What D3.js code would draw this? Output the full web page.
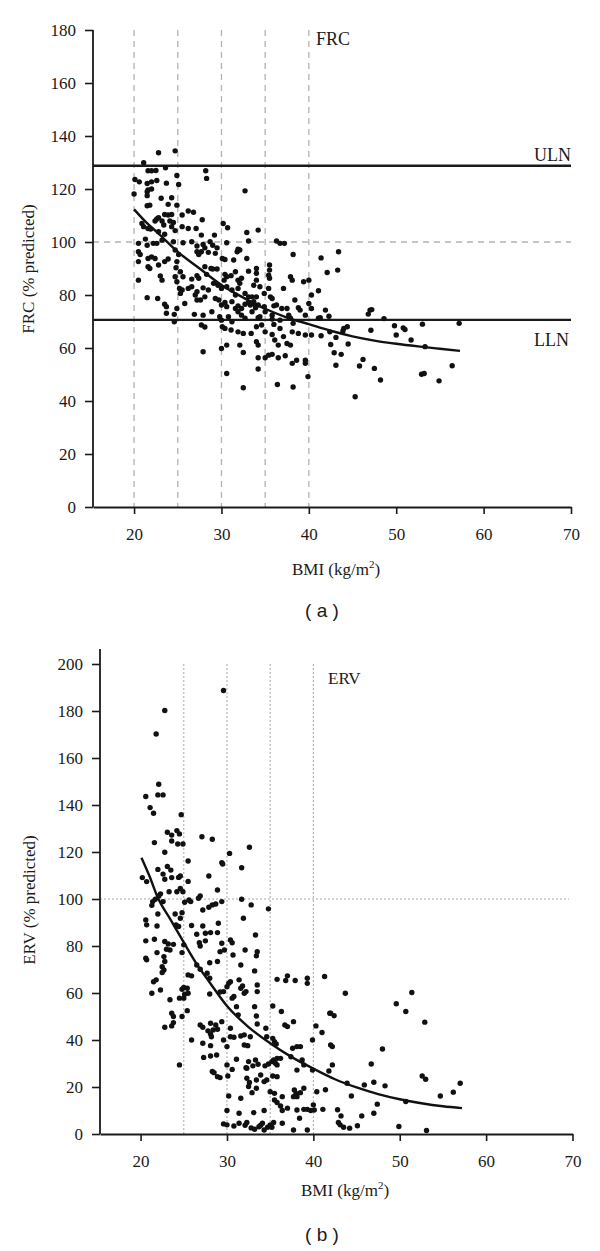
<!DOCTYPE html>
<html>
<head>
<meta charset="utf-8">
<script src="https://cdn.jsdelivr.net/npm/d3@7"></script>
<style>
  html, body { margin: 0; padding: 0; background: #fff; }
  svg { display: block; }
</style>
</head>
<body>
<svg id="chart" width="600" height="1251"></svg>
<script>
// ---------------- DATA ----------------
const xTicks = [20, 30, 40, 50, 60, 70];
const frcTicks = [0, 20, 40, 60, 80, 100, 120, 140, 160, 180];
const ervTicks = [0, 20, 40, 60, 80, 100, 120, 140, 160, 180, 200];
const frcRefVLines = [20, 25, 30, 35, 40];
const ervRefVLines = [25, 30, 35, 40];
const refHLine = 100;
const frcULN = 128.8;
const frcLLN = 70.6;

// FRC (% predicted) vs BMI — [BMI, FRC]
const frcPoints = [
[22.8,133.7],[24.7,134.4],[21.1,129.9],[21.6,126.9],[22.0,126.9],[22.5,127.0],[23.6,128.0],[24.9,125.1],[28.2,126.9],[28.3,124.0],
[20.1,123.6],[20.6,122.7],[21.5,122.1],[22.0,122.7],[22.6,123.2],[23.7,122.2],[25.1,121.7],[20.0,118.1],[21.5,119.0],[21.6,119.6],
[22.0,120.0],[21.5,117.5],[23.1,116.5],[24.3,116.7],[24.9,113.9],[21.5,113.7],[21.8,113.9],[32.7,119.3],[23.9,114.2],[22.8,109.2],
[23.5,110.4],[23.9,110.2],[24.3,110.4],[22.4,107.9],[22.6,108.7],[23.2,107.9],[24.1,107.9],[24.5,107.4],[25.5,110.2],[26.2,111.7],
[26.8,111.2],[27.8,108.4],[20.9,107.0],[21.1,105.8],[21.6,105.1],[21.9,104.9],[22.8,103.9],[23.4,106.4],[24.3,105.8],[24.7,104.3],
[23.5,102.9],[25.5,105.8],[26.2,105.1],[27.1,105.1],[27.7,102.6],[29.2,102.6],[30.2,107.0],[30.7,105.4],[32.9,103.6],[34.2,104.5],
[20.5,99.5],[21.3,101.1],[21.5,98.8],[22.2,99.5],[22.6,99.5],[23.2,100.7],[24.5,100.1],[25.6,99.7],[26.6,100.1],[27.2,98.5],
[27.9,99.1],[28.1,97.8],[28.7,100.1],[29.0,98.8],[29.5,97.8],[30.6,99.7],[32.1,97.0],[33.1,100.4],[36.3,100.4],[36.7,99.5],
[37.2,99.5],[38.2,95.3],[20.5,96.3],[20.7,95.3],[20.5,92.6],[21.6,93.8],[21.6,90.7],[21.8,90.0],[22.0,94.4],[22.4,93.8],
[22.8,91.3],[23.5,92.6],[23.9,93.6],[24.7,97.0],[24.9,92.6],[25.1,95.3],[25.3,88.8],[24.8,90.3],[27.2,96.3],[27.4,95.3],
[27.7,96.3],[28.5,96.1],[29.3,95.7],[30.1,93.8],[30.4,93.4],[31.4,93.2],[31.8,96.3],[31.9,97.3],[32.9,93.8],[34.0,90.0],
[35.5,91.3],[35.5,89.4],[20.5,85.6],[23.0,87.2],[23.2,85.6],[24.7,86.9],[24.9,85.0],[25.6,86.9],[26.6,86.0],[27.2,87.3],
[27.4,86.3],[28.1,90.7],[28.3,87.8],[28.8,90.0],[29.0,89.8],[29.5,89.8],[30.4,87.8],[30.6,86.9],[30.3,85.6],[31.1,87.3],
[31.6,88.8],[31.9,85.6],[32.3,86.3],[32.1,84.4],[33.1,89.0],[33.7,83.7],[34.0,88.2],[34.0,85.6],[34.4,83.1],[35.5,86.3],
[35.4,87.5],[37.9,86.9],[38.1,85.6],[39.4,85.0],[40.0,85.6],[25.2,82.5],[25.5,81.9],[26.2,82.5],[26.6,83.1],[27.2,81.2],
[27.9,82.7],[28.5,81.9],[29.1,84.4],[29.6,83.7],[30.0,82.5],[30.6,83.1],[31.2,81.9],[31.6,80.0],[31.9,82.5],[32.7,80.6],
[33.1,79.3],[33.5,79.3],[33.7,77.5],[34.0,79.3],[34.9,80.6],[35.4,82.5],[35.6,79.3],[35.8,78.7],[37.1,82.5],[38.4,78.1],
[40.3,80.0],[25.3,80.6],[25.8,76.8],[27.0,80.0],[27.2,78.1],[27.6,78.1],[28.1,79.3],[29.3,78.7],[29.7,78.1],[30.0,76.2],
[30.4,77.2],[30.6,75.6],[31.2,77.5],[31.6,74.9],[31.9,75.9],[32.3,74.9],[32.7,76.5],[33.1,77.2],[33.3,76.2],[33.7,76.8],
[33.9,75.2],[34.2,76.2],[34.9,75.6],[35.0,73.7],[36.0,75.9],[36.3,76.2],[36.9,74.9],[37.5,74.9],[38.8,75.2],[39.0,74.3],
[40.0,76.8],[40.3,74.9],[21.5,79.0],[22.7,78.7],[23.5,76.5],[23.7,75.6],[24.9,74.9],[23.7,73.1],[24.6,72.7],[24.6,69.9],
[26.9,72.7],[27.9,72.4],[28.9,73.7],[29.8,71.8],[30.0,70.5],[30.8,71.8],[31.2,69.9],[31.9,73.7],[32.3,72.4],[32.7,71.2],
[33.5,73.7],[34.2,71.4],[34.4,71.8],[35.8,72.4],[35.8,70.9],[36.0,68.9],[34.6,68.7],[36.7,70.5],[37.7,72.4],[37.9,71.2],
[38.2,69.3],[39.6,72.4],[41.1,71.2],[27.7,68.7],[28.1,67.9],[30.1,68.0],[30.4,67.4],[31.1,66.8],[31.9,66.1],[32.5,65.5],
[33.4,65.5],[34.0,68.0],[35.0,66.1],[35.8,65.1],[36.7,67.4],[37.1,64.3],[38.1,66.1],[38.8,65.5],[39.6,64.9],[40.3,64.9],
[32.1,61.1],[32.5,58.3],[30.0,59.8],[30.6,61.1],[27.9,58.6],[34.0,62.4],[34.2,61.1],[36.1,63.0],[36.5,61.1],[37.5,61.7],
[37.9,61.1],[34.2,56.3],[35.0,56.3],[35.4,57.3],[35.8,57.6],[36.5,56.3],[37.3,57.1],[38.1,54.2],[38.6,55.4],[39.6,55.4],
[39.6,54.2],[30.6,50.4],[34.2,52.1],[39.9,49.2],[36.4,46.2],[32.5,45.0],[38.2,45.3],
[43.4,96.3],[41.4,94.0],[42.1,88.5],[43.3,89.4],[41.1,81.6],[41.9,74.3],[41.3,71.4],[42.3,72.0],[47.0,74.3],[47.2,74.5],
[46.8,72.8],[48.6,71.1],[53.0,69.0],[57.2,69.3],[44.4,68.0],[44.0,67.4],[43.9,66.4],[42.4,66.1],[41.4,64.6],[43.1,64.0],
[42.5,61.3],[44.5,61.5],[47.1,66.7],[49.8,68.4],[50.0,64.9],[50.8,67.6],[51.0,67.0],[51.7,63.0],[53.3,60.5],[42.9,58.2],
[43.7,57.6],[43.1,53.5],[45.8,53.2],[46.2,55.7],[47.5,52.3],[48.2,47.9],[52.9,50.1],[53.2,50.4],[54.9,47.6],[56.4,53.3],
[45.3,41.6]
];
// FRC fitted curve — [BMI, FRC]
const frcCurve = [[20,112.3],[21.3,107.7],[22.8,103.2],[25,96.3],[27.5,90],[30,83.8],[32.5,79],[35,74.8],[37.5,71.5],[40,69],
[42.5,66.5],[45,64.4],[47.5,62.8],[50,61.6],[52.5,60.6],[55,59.7],[57.3,58.9]];

// ERV (% predicted) vs BMI — [BMI, ERV]
const ervPoints = [
[29.6,188.7],[22.8,180.2],[21.8,170.2],[22.1,148.8],[20.6,143.6],[22.0,144.3],[22.6,144.3],[21.1,138.9],[21.5,136.5],[24.7,135.9],
[23.1,128.4],[23.6,127.2],[23.6,124.7],[24.2,129.1],[24.5,127.7],[24.3,123.4],[24.9,123.4],[21.6,124.0],[27.1,126.5],[28.3,125.4],
[22.8,119.9],[25.5,116.2],[30.3,119.4],[32.6,122.0],[29.4,115.5],[29.5,114.9],[31.7,113.3],[20.2,109.1],[20.7,107.4],[22.0,112.6],
[22.6,110.6],[23.1,113.8],[23.5,112.3],[22.8,108.4],[23.6,109.1],[24.4,109.2],[24.6,109.8],[25.5,107.5],[27.9,109.8],[23.3,103.1],
[24.2,103.1],[24.6,104.5],[24.9,103.1],[28.9,103.8],[22.3,102.2],[22.1,101.3],[21.7,99.9],[21.4,98.9],[21.3,97.3],[22.6,98.9],
[25.1,98.6],[25.6,99.6],[25.8,98.9],[26.9,101.3],[26.7,100.3],[27.9,96.5],[28.3,97.5],[28.7,97.9],[29.4,98.9],[31.7,99.9],
[32.8,97.5],[34.8,95.8],
[22.0,93.6],[24.0,93.6],[24.8,94.2],[24.6,91.8],[27.2,95.3],[31.9,91.8],
[20.6,91.1],[20.7,89.0],[21.9,88.5],[24.1,89.0],[24.4,88.3],[25.9,88.7],[27.2,88.5],[26.5,85.0],[27.5,85.4],[28.1,85.7],
[28.9,85.7],[29.0,89.7],[27.5,82.2],[26.8,81.4],[26.9,80.0],[20.6,82.2],[21.6,82.9],[22.8,81.9],[23.2,80.9],[23.8,80.7],
[23.0,78.6],[23.4,78.3],[25.0,80.5],[30.4,82.6],[30.6,81.4],[33.3,84.7],[29.4,81.2],[29.7,78.3],[29.2,77.6],[32.1,78.3],
[33.5,77.6],[33.4,75.8],[24.8,77.2],
[20.6,74.8],[20.7,74.1],[21.9,77.2],[22.7,75.5],[22.8,73.4],[22.5,71.2],[22.7,69.8],[22.5,68.7],[21.8,65.6],[21.5,64.8],
[21.3,59.9],[22.3,61.3],[26.5,71.9],[26.9,70.1],[27.7,68.4],[28.0,66.3],[28.0,72.9],[28.9,73.4],[30.7,76.2],[31.6,71.9],
[33.2,69.4],[25.5,67.7],[25.9,67.3],[23.4,57.1],[24.8,61.6],[25.0,62.4],[25.4,62.0],[25.1,59.5],[25.5,59.9],[24.5,57.8],
[25.0,57.8],[28.0,59.6],[29.2,60.4],[29.6,60.6],[30.0,62.7],[30.2,64.1],[30.4,64.8],[31.4,65.6],[31.6,62.0],[31.8,63.0],
[32.2,60.6],[32.0,59.9],[30.8,58.5],[30.6,57.8],[33.5,63.4],[33.5,60.6],[35.8,65.8],[36.8,65.3],[37.0,67.3],[37.9,65.3],
[39.3,66.3],[39.3,64.1],[41.3,67.0],
[23.6,51.4],[23.8,50.0],[23.8,47.4],[23.6,46.0],[22.8,45.4],[24.8,50.0],[25.4,52.5],[24.5,29.4],[25.9,40.0],[26.9,46.4],
[27.2,45.4],[28.1,47.1],[27.8,43.9],[28.1,42.6],[28.4,44.3],[28.7,46.4],[28.9,44.6],[29.4,47.8],[28.2,41.4],[27.2,38.6],
[28.1,37.6],[27.3,32.6],[28.1,33.2],[28.8,33.6],[29.6,40.0],[30.0,37.2],[30.4,45.0],[30.4,41.4],[30.8,41.2],[31.1,54.2],
[31.3,50.7],[31.6,41.7],[32.0,42.2],[32.0,37.9],[32.4,37.6],[32.7,41.4],[33.2,54.2],[33.4,50.2],[33.5,46.8],[34.5,45.0],
[34.6,41.4],[35.3,54.5],[36.3,52.1],[35.3,40.7],[35.5,39.3],[35.7,38.3],[36.7,46.4],[37.0,45.7],[37.7,47.8],[40.3,46.0],
[41.0,43.2],[41.9,51.4],[39.9,40.0],[42.0,37.9],
[28.3,26.6],[28.5,26.1],[28.9,24.4],[29.2,24.0],[30.0,29.4],[30.1,24.7],[30.6,27.5],[31.1,31.8],[32.2,28.2],[32.3,28.0],
[32.5,30.8],[33.0,29.0],[33.3,31.5],[33.6,29.7],[32.3,23.7],[32.6,21.9],[32.5,20.2],[33.4,23.0],[33.9,25.1],[34.3,22.3],
[34.6,23.0],[32.9,17.6],[33.4,19.5],[34.4,29.0],[34.8,29.8],[35.2,30.8],[35.4,31.5],[35.6,30.1],[35.8,29.4],[35.8,32.2],
[35.3,24.7],[35.8,24.4],[36.2,32.2],[37.4,32.9],[37.6,36.5],[38.1,37.2],[38.5,37.2],[38.7,31.5],[38.1,27.2],[38.9,29.4],
[39.9,27.2],[40.4,18.0],[41.4,18.8],
[30.2,16.2],[31.6,15.2],[30.0,10.0],[31.4,8.8],[33.1,9.1],[34.3,10.0],[35.0,18.0],[35.5,17.3],[35.5,14.5],[35.8,13.4],
[36.4,15.9],[36.2,11.9],[36.4,10.0],[37.0,11.0],[37.7,15.9],[37.8,18.7],[38.0,17.3],[38.1,15.9],[38.5,17.6],[38.9,19.5],
[38.1,10.2],[38.9,10.5],[39.3,10.5],[39.7,10.0],[40.0,12.4],[40.1,10.2],[41.1,10.5],[38.4,6.7],[29.6,4.3],[30.0,3.9],
[30.8,3.4],[31.4,4.6],[32.1,3.7],[32.3,4.9],[32.8,2.6],[33.2,2.0],[33.7,3.1],[33.9,3.7],[34.1,4.6],[34.3,1.7],
[34.7,2.9],[35.0,3.9],[35.2,2.9],[35.4,4.9],[36.4,4.6],[37.7,1.7],[39.3,1.7],
[43.7,59.9],[42.0,51.4],[42.4,50.3],[42.2,37.2],[42.2,29.4],[41.8,26.8],[48.0,36.2],[46.7,29.8],[49.6,55.4],[50.7,52.1],
[51.4,60.2],[52.9,47.6],[52.6,24.7],[53.0,23.3],[43.9,21.6],[45.9,20.9],[47.0,22.0],[48.3,20.5],[50.7,13.8],[54.7,16.2],
[56.2,17.8],[57.0,21.6],[44.4,16.2],[47.4,12.7],[47.0,8.8],[42.8,10.3],[43.2,7.7],[42.9,4.9],[43.1,3.9],[43.5,2.9],
[44.2,2.5],[45.1,3.5],[45.6,7.7],[49.9,3.2],[53.1,1.5]
];
// ERV fitted curve — [BMI, ERV]
const ervCurve = [[20.1,117.6],[21,110],[22,100.5],[23.5,91],[25,81.5],[26.5,72.3],[28,64.5],[30,54.5],[32.5,45.5],[35,38.6],
[37.5,32.7],[40,27.8],[42.5,23.3],[45,19.8],[47.5,17.0],[50,14.8],[52.5,13.1],[55,11.8],[57.2,11.0]];

// ---------------- DRAWING ----------------
const svg = d3.select("#chart");
const SERIF = '"Liberation Serif", "Times New Roman", serif';
const SANS = '"Liberation Sans", Arial, sans-serif';
const INK = "#1a1a1a";

function styleAxis(a) {
  a.attr("font-family", SERIF).attr("font-size", 17);
  a.selectAll(".tick text").attr("fill", INK).style("font-family", SERIF).style("font-size", "17px");
  a.selectAll(".tick line").attr("stroke", INK).attr("stroke-width", 1.6);
  a.select(".domain").attr("stroke", INK).attr("stroke-width", 1.8);
}

function panel(cfg) {
  const g = svg.append("g");
  const x = d3.scaleLinear().domain([15.3, 70]).range([cfg.left, cfg.right]);
  const y = d3.scaleLinear().domain([0, cfg.ymax]).range([cfg.bottom, cfg.top]);

  // reference lines
  const refStyle = sel => sel.attr("stroke", cfg.refColor).attr("stroke-width", cfg.refWidth)
    .attr("stroke-dasharray", cfg.dash).attr("fill", "none");
  g.selectAll("line.vref").data(cfg.vlines).join("line").attr("class", "vref")
    .attr("x1", d => x(d)).attr("x2", d => x(d))
    .attr("y1", cfg.vTop).attr("y2", y(0)).call(refStyle);
  g.append("line").attr("x1", x.range()[0]).attr("x2", cfg.hEnd)
    .attr("y1", y(refHLine)).attr("y2", y(refHLine)).call(refStyle);

  // limit lines
  (cfg.limits || []).forEach(v => {
    g.append("line").attr("x1", x.range()[0]).attr("x2", x(70))
      .attr("y1", y(v)).attr("y2", y(v))
      .attr("stroke", INK).attr("stroke-width", 2.4);
  });

  // points
  g.selectAll("circle").data(cfg.points).join("circle")
    .attr("cx", d => x(d[0])).attr("cy", d => y(d[1])).attr("r", 2.7).attr("fill", "#111");

  // curve
  g.append("path").datum(cfg.curve)
    .attr("d", d3.line().x(d => x(d[0])).y(d => y(d[1])).curve(d3.curveMonotoneX))
    .attr("fill", "none").attr("stroke", "#111").attr("stroke-width", 2.4);

  // axes
  const xa = g.append("g").attr("transform", `translate(0,${y(0)})`)
    .call(d3.axisBottom(x).tickValues(xTicks).tickSize(7).tickSizeOuter(0).tickPadding(14));
  styleAxis(xa);
  const ya = g.append("g").attr("transform", `translate(${x.range()[0]},0)`)
    .call(d3.axisLeft(y).tickValues(cfg.yTicks).tickSize(8).tickSizeOuter(0).tickPadding(9));
  styleAxis(ya);
  ya.select(".domain").attr("d", `M0,${cfg.axisTop}V${y(0)}`);

  // axis titles
  const xt = g.append("text").attr("x", cfg.xLabelX).attr("y", cfg.xLabelY)
    .attr("text-anchor", "middle").style("font-family", SERIF).style("font-size", "17px").attr("fill", INK);
  xt.append("tspan").text("BMI (kg/m");
  xt.append("tspan").text("2").style("font-size", "11px").attr("dy", -7);
  xt.append("tspan").text(")").attr("dy", 7);

  g.append("text").attr("transform", `translate(${cfg.yLabelX},${cfg.yLabelY}) rotate(-90)`)
    .attr("text-anchor", "middle").style("font-family", SERIF).style("font-size", "17px").attr("fill", INK)
    .text(cfg.yTitle);

  // annotations
  cfg.notes.forEach(n => {
    g.append("text").attr("x", n.x).attr("y", n.y).attr("text-anchor", n.anchor || "start")
      .style("font-family", SERIF).style("font-size", (n.size || 18) + "px").attr("fill", INK).text(n.t);
  });

  // panel letter
  g.append("text").attr("x", 322).attr("y", cfg.letterY).attr("text-anchor", "middle")
    .style("font-family", SANS).style("font-size", "19px").attr("fill", INK).text(cfg.letter);
}

panel({
  left: 93, right: 571, top: 30, bottom: 507, ymax: 180, axisTop: 30,
  yTicks: frcTicks, vlines: frcRefVLines, vTop: 30, hEnd: 571,
  refColor: "#b3b3b3", refWidth: 1.3, dash: "6,5",
  limits: [frcULN, frcLLN],
  points: frcPoints, curve: frcCurve,
  xLabelX: 336, xLabelY: 575, yLabelX: 34, yLabelY: 269, yTitle: "FRC (% predicted)",
  notes: [
    {t: "FRC", x: 316, y: 45},
    {t: "ULN", x: 571, y: 161, anchor: "end"},
    {t: "LLN", x: 569, y: 346, anchor: "end"}
  ],
  letter: "( a )", letterY: 617
});

panel({
  left: 100, right: 572.5, top: 664, bottom: 1134, ymax: 200, axisTop: 649,
  yTicks: ervTicks, vlines: ervRefVLines, vTop: 664, hEnd: 569,
  refColor: "#a8a8a8", refWidth: 1, dash: "2,2",
  limits: [],
  points: ervPoints, curve: ervCurve,
  xLabelX: 345, xLabelY: 1196, yLabelX: 35, yLabelY: 900, yTitle: "ERV (% predicted)",
  notes: [
    {t: "ERV", x: 328, y: 684, size: 17}
  ],
  letter: "( b )", letterY: 1241
});
</script>
</body>
</html>
